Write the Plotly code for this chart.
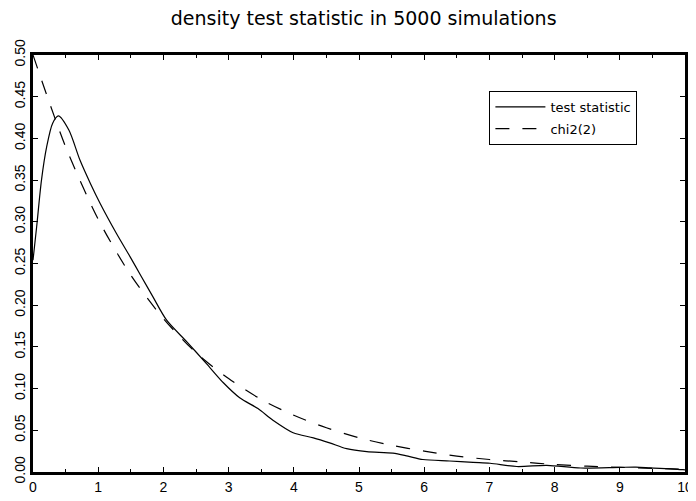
import plotly.graph_objects as go

# test statistic density
ts_x = [0, 0.056, 0.13, 0.21, 0.30, 0.39, 0.55, 0.72, 0.88, 1.03, 1.28, 1.49, 1.65, 1.84,
        2.05, 2.36, 2.66, 2.92, 3.17, 3.45, 3.68, 3.99, 4.3, 4.55, 4.81, 5.12, 5.52,
        5.75, 5.98, 6.39, 6.75, 7.01, 7.42, 7.88, 8.4, 9.0, 9.25, 9.46, 9.97, 10]
ts_y = [0.254, 0.294, 0.35, 0.39, 0.418, 0.427, 0.41, 0.374, 0.346, 0.322, 0.286, 0.258,
        0.236, 0.21, 0.182, 0.156, 0.130, 0.107, 0.089, 0.076, 0.062, 0.047, 0.041, 0.035,
        0.028, 0.0244, 0.0226, 0.019, 0.0150, 0.0132, 0.0115, 0.0105, 0.0066, 0.008,
        0.0048, 0.0056, 0.0058, 0.005, 0.0028, 0.0025]

# chi2(2) density
chi_x = [0, 0.5, 1, 1.5, 2, 2.5, 3, 3.5, 4, 4.5, 5, 5.5, 6, 6.5, 7, 7.5, 8, 8.5, 9, 9.5, 10]
chi_y = [0.50, 0.39, 0.303, 0.236, 0.184, 0.143, 0.112, 0.087, 0.068, 0.053, 0.041,
         0.032, 0.025, 0.019, 0.015, 0.012, 0.009, 0.007, 0.0056, 0.0043, 0.0034]

x_ticks = [0, 1, 2, 3, 4, 5, 6, 7, 8, 9, 10]
y_ticks = [0.00, 0.05, 0.10, 0.15, 0.20, 0.25, 0.30, 0.35, 0.40, 0.45, 0.50]
y_labels = ["%.2f" % v for v in y_ticks]

FONT = "DejaVu Sans"
TICKFONT = "Liberation Sans"

fig = go.Figure()
fig.add_trace(go.Scatter(x=ts_x, y=ts_y, mode="lines", name="test statistic",
                         legendgroup="a",
                         line=dict(color="black", width=1.2, shape="spline", smoothing=0.8)))
fig.add_trace(go.Scatter(x=chi_x, y=chi_y, mode="lines", name="chi2(2)",
                         legendgroup="b",
                         line=dict(color="black", width=1.2, shape="spline", smoothing=0.8,
                                   dash="14px,13px")))

axis_common = dict(showgrid=False, zeroline=False, showline=True, linecolor="black",
                   linewidth=2.5, mirror="ticks", ticks="inside", tickcolor="black",
                   tickwidth=1, ticklen=5, automargin=False)

fig.update_layout(
    width=696, height=501,
    margin=dict(l=25, r=19, t=47, b=37, autoexpand=False),
    paper_bgcolor="white", plot_bgcolor="white",
    font=dict(family=FONT, color="black", size=13),
    title=dict(text="density test statistic in 5000 simulations", x=0.511, xanchor="center",
               y=0.98, yanchor="middle", font=dict(size=19, family=FONT, color="black")),
    xaxis=dict(range=[0, 10], tickvals=x_ticks, ticktext=[str(v) for v in x_ticks],
               tickfont=dict(size=14, family=TICKFONT),
               minor=dict(dtick=0.5, ticks="inside", ticklen=3,
                          tickcolor="black", showgrid=False),
               **axis_common),
    yaxis=dict(range=[0, 0.5], tickvals=y_ticks, ticktext=y_labels, tickangle=-90,
               tickfont=dict(size=14, family=TICKFONT), **axis_common),
    showlegend=True,
    legend=dict(x=0.70, y=0.914, xanchor="left", yanchor="top", bgcolor="white",
                bordercolor="black", borderwidth=1, font=dict(size=13, family=FONT),
                itemwidth=50, tracegroupgap=2),
)

fig.write_html("out.html")
